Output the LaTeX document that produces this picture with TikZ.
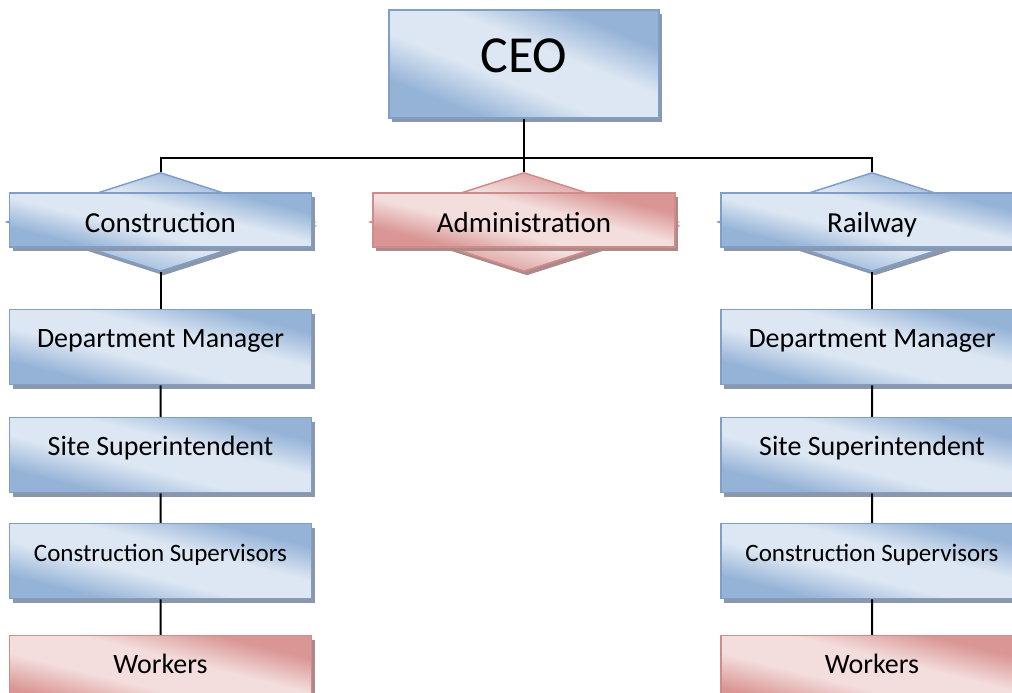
\documentclass[tikz,border=0pt]{standalone}
\usepackage{fontspec}
\setmainfont{Carlito}
\usetikzlibrary{shapes.geometric,shadows}

\definecolor{bluedark}{RGB}{149,179,215}
\definecolor{bluelight}{RGB}{221,231,243}
\definecolor{blueline}{RGB}{127,159,201}
\definecolor{blueshadow}{RGB}{140,152,170}
\definecolor{reddark}{RGB}{217,150,148}
\definecolor{redlight}{RGB}{243,222,221}
\definecolor{redline}{RGB}{208,140,138}
\definecolor{redshadow}{RGB}{172,138,138}

\pgfdeclarehorizontalshading{bluefill}{100bp}{color(0bp)=(bluedark); color(29bp)=(bluedark); color(43bp)=(bluelight); color(57bp)=(bluelight); color(71bp)=(bluedark); color(100bp)=(bluedark)}
\pgfdeclarehorizontalshading{redfill}{100bp}{color(0bp)=(reddark); color(29bp)=(reddark); color(43bp)=(redlight); color(57bp)=(redlight); color(71bp)=(reddark); color(100bp)=(reddark)}

\tikzset{
	plate/.style={rectangle, inner sep=0pt, line width=1.5pt, minimum width=302pt, minimum height=75pt},
	bluish/.style={draw=blueline, shading=bluefill, shading angle=76,
		drop shadow={shadow xshift=3pt, shadow yshift=-4pt, fill=blueshadow, opacity=1}},
	reddish/.style={draw=redline, shading=redfill, shading angle=76,
		drop shadow={shadow xshift=3pt, shadow yshift=-4pt, fill=redshadow, opacity=1}},
	dept/.style={plate, minimum height=54pt, text height=25pt, text depth=0pt, font=\fontsize{29}{32}\selectfont},
	rank/.style={plate, text height=10pt, text depth=10pt, font=\fontsize{28}{32}\selectfont},
	fork/.style={diamond, inner sep=0pt, line width=1.5pt, minimum width=308pt, minimum height=99pt},
	wire/.style={draw, black, line width=2pt}
}

\begin{document}
\begin{tikzpicture}[x=1pt, y=-1pt,
	edge from parent/.style={wire},
	level 1/.style={level distance=125pt},
	level 2/.style={level distance=108pt},
	level 3/.style={level distance=106pt},
	level 4/.style={level distance=112pt}]
\useasboundingbox (0,0) rectangle (1012,693);
\clip (0,0) rectangle (1012,693);

\node[plate, bluish, shading angle=68, minimum width=270pt, minimum height=108pt, text height=17pt, text depth=0pt,
	font=\fontsize{52}{56}\selectfont] (ceo) at (524,64) {CEO};

% construction branch
\node[fork, bluish] (cfork) at (160.5,222) { }
child {node[rank, bluish] (cmgr) {Department Manager}
	child {node[rank, bluish] (csite) {Site Superintendent}
		child {node[rank, bluish, font=\fontsize{25}{28}\selectfont] (csup) {Construction Supervisors}
			child {node[rank, reddish] (cwork) {Workers}}
			}
		}
	};

% administration
\node[fork, reddish] (afork) at (524,222) { };

% railway branch
\node[fork, bluish] (rfork) at (872,222) { }
child {node[rank, bluish] (rmgr) {Department Manager}
	child {node[rank, bluish] (rsite) {Site Superintendent}
		child {node[rank, bluish, font=\fontsize{25}{28}\selectfont] (rsup) {Construction Supervisors}
			child {node[rank, reddish] (rwork) {Workers}}
			}
		}
	};

\node[dept, bluish] (cdept) at (160.5,220) {Construction};
\node[dept, reddish] (adept) at (524,220) {Administration};
\node[dept, bluish] (rdept) at (872,220) {Railway};

\coordinate (bus) at (524,158);
\draw[wire] (ceo) -- (bus);
\draw[wire] (cfork.north) |- (bus) -| (rfork.north);
\draw[wire] (bus) -- (afork.north);
\end{tikzpicture}
\end{document}
